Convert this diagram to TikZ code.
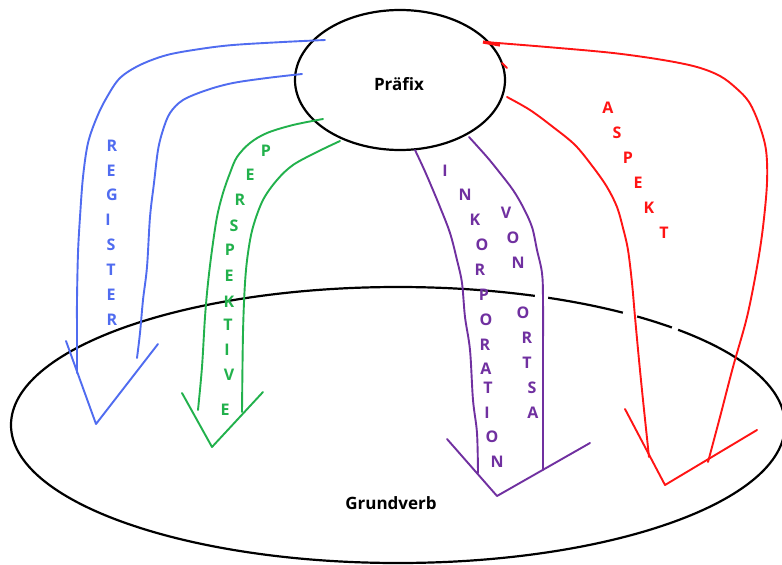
\documentclass[tikz,border=0pt]{standalone}
\usepackage{fontspec}
\setmainfont{Open Sans}
\usetikzlibrary{shapes.geometric}
\definecolor{regblue}{RGB}{80,108,240}
\definecolor{pergreen}{RGB}{34,177,76}
\definecolor{inkpurple}{RGB}{112,48,160}
\definecolor{asred}{RGB}{255,20,20}
\tikzset{
  oval/.style={draw=black, line width=2.2pt, ellipse, inner sep=0pt},
  lbl/.style={font=\fontsize{17}{19}\selectfont\bfseries, inner sep=0pt},
  ltr/.style={font=\fontsize{16}{18}\selectfont\bfseries, inner sep=0pt},
  stroke/.style={line width=1.9pt, line cap=round, line join=round}
}
\begin{document}
\begin{tikzpicture}[x=1pt,y=-1pt]
\useasboundingbox (0,0) rectangle (782,565);
\fill[white] (0,0) rectangle (782,565);

% ellipses
\node[oval, minimum width=774pt, minimum height=276pt] (grund) at (398,425) {};
\node[oval, minimum width=210pt, minimum height=140pt] (praefix) at (400,80) {};
% gaps in the big ellipse
\draw[white, line width=5pt] (535,295.9) -- (548,297.8);
\draw[white, line width=5pt] (623,312.7) -- (637,316.5);
\draw[white, line width=5pt] (672,327.5) -- (678,329.7);

\node[lbl] (tpraefix) at (399,84) {Präfix};
\node[lbl] (tgrund) at (391,503) {Grundverb};

% REGISTER (blue)
\draw[regblue, stroke] plot[smooth, tension=0.55] coordinates {(325,40) (283,42) (233,45) (200,49) (167,55) (140,65) (120,78) (107,97) (97,117) (88,143) (83,177) (80,217) (78,253) (77,300) (77,333) (77,373)};
\draw[regblue, stroke] plot[smooth, tension=0.55] coordinates {(302,74) (267,78) (233,83) (207,90) (183,100) (170,113) (163,130) (158,150) (154,183) (150,217) (147,267) (143,300) (140,333) (137,358)};
\coordinate (bl1) at (66,341); \coordinate (bl2) at (96,424); \coordinate (bl3) at (158,344);
\draw[regblue, stroke] (bl1) -- (bl2) -- (bl3);
\foreach \t/\x/\y [count=\i] in {R/112/146, E/111/171, G/112/195, I/108/220, S/111/245, T/111/270, E/111/295, R/112/320}
  \node[ltr, text=regblue] (reg\i) at (\x,\y) {\t};

% PERSPEKTIVE (green)
\draw[pergreen, stroke] plot[smooth, tension=0.55] coordinates {(323,119) (293,125) (267,133) (250,143) (237,157) (230,173) (223,193) (217,217) (212,250) (208,283) (205,317) (202,367) (198,410)};
\draw[pergreen, stroke] plot[smooth, tension=0.55] coordinates {(340,141) (317,152) (293,165) (277,180) (263,200) (253,227) (248,253) (245,283) (243,333) (242,412)};
\coordinate (gr1) at (182,393); \coordinate (gr2) at (212,447); \coordinate (gr3) at (263,392);
\draw[pergreen, stroke] (gr1) -- (gr2) -- (gr3);
\foreach \t/\x/\y [count=\i] in {P/266/151, E/250/175, R/240/200, S/234/226, P/230/250, E/229/276, K/229/302, T/228/325, I/227/350, V/229/375, E/225/410}
  \node[ltr, text=pergreen] (per\i) at (\x,\y) {\t};

% INKORPORATION / VON ORTSA (purple)
\draw[inkpurple, stroke] plot[smooth, tension=0.55] coordinates {(415,150) (423,167) (430,183) (440,207) (450,233) (457,260) (462,283) (465,317) (470,350) (473,400) (477,433) (478,473)};
\draw[inkpurple, stroke] plot[smooth, tension=0.55] coordinates {(469,137) (487,157) (500,173) (513,190) (523,207) (532,227) (537,250) (542,273) (543,300) (543,367) (543,470)};
\coordinate (pu1) at (447,439); \coordinate (pu2) at (497,496); \coordinate (pu3) at (590,443);
\draw[inkpurple, stroke] (pu1) -- (pu2) -- (pu3);
\foreach \t/\x/\y [count=\i] in {I/445/171, N/465/195, K/475/220, O/482/245, R/480/270, P/484/295, O/486/320, R/485/345, A/486/369, T/488/388, I/487/413, O/492/437, N/497/462}
  \node[ltr, text=inkpurple] (ink\i) at (\x,\y) {\t};
\foreach \t/\x/\y [count=\i] in {V/506/213, O/513/238, N/518/263, O/523/313, R/527/338, T/527/363, S/532/388, A/533/413}
  \node[ltr, text=inkpurple] (von\i) at (\x,\y) {\t};

% ASPEKT (red)
\draw[asred, line width=3.2pt] (483,42) -- (500,45);
\draw[asred, stroke] (502,63) -- (507,68);
\draw[asred, stroke] plot[smooth, tension=0.55] coordinates {(485,42) (547,47) (613,53) (663,60) (697,67) (720,76) (736,88) (749,102) (759,124) (766,150) (767,183) (763,227) (757,267) (747,317) (733,367) (720,417) (708,462)};
\draw[asred, stroke] plot[smooth, tension=0.55] coordinates {(507,97) (530,110) (553,127) (575,145) (593,167) (607,187) (617,207) (623,228) (628,250) (632,283) (635,317) (639,360) (643,400) (649,457)};
\coordinate (rd1) at (625,409); \coordinate (rd2) at (665,485); \coordinate (rd3) at (757,430);
\draw[asred, stroke] (rd1) -- (rd2) -- (rd3);
\foreach \t/\x/\y [count=\i] in {A/608/108, S/617/133, P/628/158, E/638/183, K/649/208, T/664/233}
  \node[ltr, text=asred] (asp\i) at (\x,\y) {\t};
\end{tikzpicture}
\end{document}
